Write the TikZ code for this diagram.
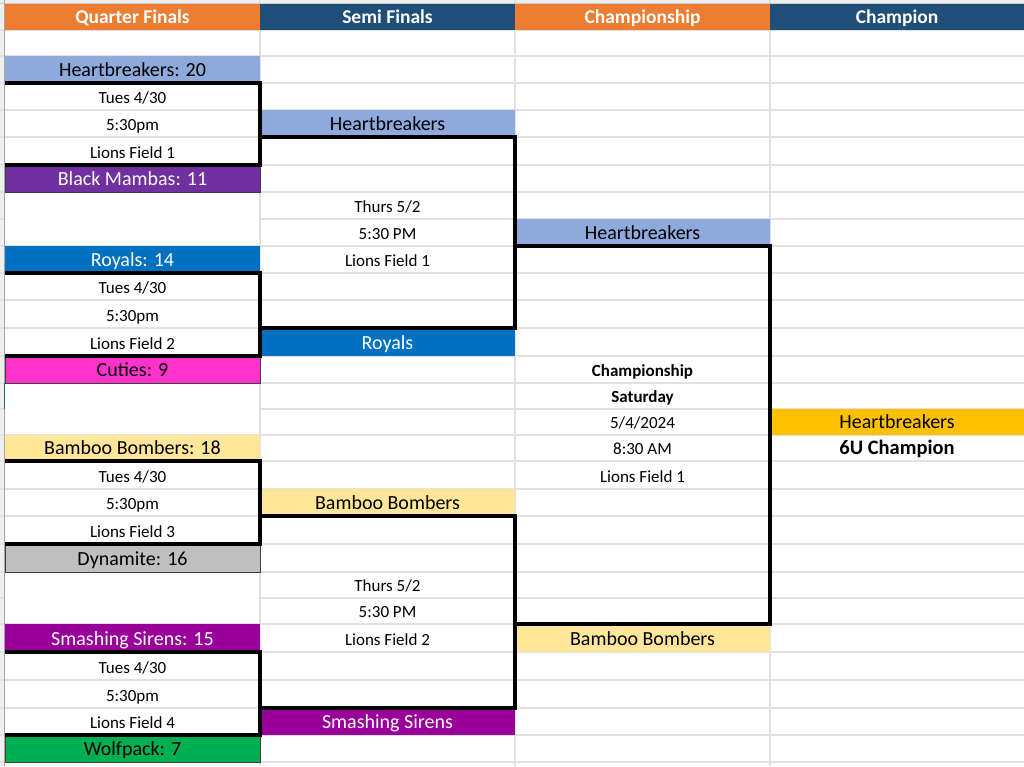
\documentclass[tikz,border=0pt]{standalone}
\usepackage{fontspec}
\setmainfont{Carlito}
\definecolor{hdrorange}{HTML}{ED7D31}
\definecolor{hdrblue}{HTML}{1F4E79}
\definecolor{hb}{HTML}{8EA9DB}
\definecolor{mamba}{HTML}{7030A0}
\definecolor{royal}{HTML}{0070C0}
\definecolor{cutie}{HTML}{FF33CC}
\definecolor{bamboo}{HTML}{FFE699}
\definecolor{dyna}{HTML}{BFBFBF}
\definecolor{siren}{HTML}{990099}
\definecolor{wolf}{HTML}{00B050}
\definecolor{gold}{HTML}{FFC000}
\definecolor{gridc}{HTML}{E1E1E1}
\definecolor{stripc}{HTML}{EFEFEF}
\definecolor{xlgreen}{HTML}{217346}
% name, x0, width, ytop, ybot, style, text
\newcommand\mkcell[7]{%
  \pgfmathsetmacro\cellth{#5-#4-6.5}%
  \node[cellbase,#6,minimum width=#3pt,text height=\cellth pt,text depth=6.5pt,anchor=north west] (#1) at (#2,#4) {#7};}
\begin{document}
\begin{tikzpicture}[x=1pt,y=-1pt,
  cellbase/.style={inner sep=0pt,outer sep=0pt,align=center},
  team/.style={font=\fontsize{20}{24}\selectfont},
  info/.style={font=\fontsize{17}{20}\selectfont},
  infob/.style={font=\bfseries\fontsize{17}{20}\selectfont},
  hdr/.style={font=\bfseries\fontsize{19.5}{23}\selectfont,text=white},
  loser/.style={draw=black!75,line width=0.8pt},
  bracket/.style={draw=black,line width=3.2pt,line join=miter},
  gridline/.style={draw=gridc,line width=1.2pt}]
\useasboundingbox (0,0) rectangle (1024,766);
\fill[white] (0,0) rectangle (1024,766);
% sheet frame
\fill[stripc] (0,0) rectangle (1024,4);
\fill[stripc] (0,0) rectangle (4,766);
\foreach \y in {30,56,83,110,137,165,192,246,273,300,328,356,383,435,461,489,516,544,572,624,652,680,708,735,762}
  \draw[gridline] (0,\y) -- (1024,\y);
\foreach \y in {219,409,598}{
  \draw[gridline] (260,\y) -- (1024,\y);
  \draw[gridline] (0,\y) -- (5,\y);}
\foreach \x in {260,515,770}
  \draw[gridline] (\x,0) -- (\x,766);
\draw[black!35,line width=1pt] (4.5,0) -- (4.5,766);
\draw[black!20,line width=1pt] (0,3.5) -- (1024,3.5);
\draw[xlgreen,line width=1.5pt] (4.5,383) -- (4.5,409);
% headers
\mkcell{hA}{5}{255}{4}{30}{hdr,fill=hdrorange}{Quarter Finals}
\mkcell{hB}{260}{255}{4}{30}{hdr,fill=hdrblue}{Semi Finals}
\mkcell{hC}{515}{255}{4}{30}{hdr,fill=hdrorange}{Championship}
\mkcell{hD}{770}{254}{4}{30}{hdr,fill=hdrblue}{Champion}
% quarter finals
\mkcell{qa1}{5}{255}{56}{83}{team,fill=hb}{Heartbreakers: 20}
\mkcell{qd1a}{5}{255}{83}{110}{info}{Tues 4/30}
\mkcell{qd1b}{5}{255}{110}{137}{info}{5:30pm}
\mkcell{qd1c}{5}{255}{137}{165}{info}{Lions Field 1}
\mkcell{qa2}{5}{255}{165}{192}{team,fill=mamba,text=white,loser}{Black Mambas: 11}
\mkcell{qa3}{5}{255}{246}{273}{team,fill=royal,text=white}{Royals: 14}
\mkcell{qd2a}{5}{255}{273}{300}{info}{Tues 4/30}
\mkcell{qd2b}{5}{255}{300}{328}{info}{5:30pm}
\mkcell{qd2c}{5}{255}{328}{356}{info}{Lions Field 2}
\mkcell{qa4}{5}{255}{356}{383}{team,fill=cutie,loser}{Cuties: 9}
\mkcell{qa5}{5}{255}{435}{461}{team,fill=bamboo}{Bamboo Bombers: 18}
\mkcell{qd3a}{5}{255}{461}{489}{info}{Tues 4/30}
\mkcell{qd3b}{5}{255}{489}{516}{info}{5:30pm}
\mkcell{qd3c}{5}{255}{516}{544}{info}{Lions Field 3}
\mkcell{qa6}{5}{255}{544}{572}{team,fill=dyna,loser}{Dynamite: 16}
\mkcell{qa7}{5}{255}{624}{652}{team,fill=siren,text=white}{Smashing Sirens: 15}
\mkcell{qd4a}{5}{255}{652}{680}{info}{Tues 4/30}
\mkcell{qd4b}{5}{255}{680}{708}{info}{5:30pm}
\mkcell{qd4c}{5}{255}{708}{735}{info}{Lions Field 4}
\mkcell{qa8}{5}{255}{735}{762}{team,fill=wolf,loser}{Wolfpack: 7}
% semi finals
\mkcell{sb1}{260}{255}{110}{137}{team,fill=hb}{Heartbreakers}
\mkcell{sd1a}{260}{255}{192}{219}{info}{Thurs 5/2}
\mkcell{sd1b}{260}{255}{219}{246}{info}{5:30 PM}
\mkcell{sd1c}{260}{255}{246}{273}{info}{Lions Field 1}
\mkcell{sb2}{260}{255}{328}{356}{team,fill=royal,text=white}{Royals}
\mkcell{sb3}{260}{255}{489}{516}{team,fill=bamboo}{Bamboo Bombers}
\mkcell{sd2a}{260}{255}{572}{598}{info}{Thurs 5/2}
\mkcell{sd2b}{260}{255}{598}{624}{info}{5:30 PM}
\mkcell{sd2c}{260}{255}{624}{652}{info}{Lions Field 2}
\mkcell{sb4}{260}{255}{708}{735}{team,fill=siren,text=white}{Smashing Sirens}
% championship
\mkcell{cb1}{515}{255}{219}{246}{team,fill=hb}{Heartbreakers}
\mkcell{cd1}{515}{255}{356}{383}{infob}{Championship}
\mkcell{cd2}{515}{255}{383}{409}{infob}{Saturday}
\mkcell{cd3}{515}{255}{409}{435}{info}{5/4/2024}
\mkcell{cd4}{515}{255}{435}{461}{info}{8:30 AM}
\mkcell{cd5}{515}{255}{461}{489}{info}{Lions Field 1}
\mkcell{cb2}{515}{255}{624}{652}{team,fill=bamboo}{Bamboo Bombers}
% champion
\mkcell{ch}{770}{254}{409}{435}{team,fill=gold}{Heartbreakers}
\mkcell{chl}{770}{254}{435}{461}{team,font=\bfseries\fontsize{20.5}{24}\selectfont}{6U Champion}
% brackets
\draw[bracket] (qa1.south west) -- (qa1.south east) -- (qa2.north east) -- (qa2.north west);
\draw[bracket] (qa3.south west) -- (qa3.south east) -- (qa4.north east) -- (qa4.north west);
\draw[bracket] (qa5.south west) -- (qa5.south east) -- (qa6.north east) -- (qa6.north west);
\draw[bracket] (qa7.south west) -- (qa7.south east) -- (qa8.north east) -- (qa8.north west);
\draw[bracket] (sb1.south west) -- (sb1.south east) -- (sb2.north east) -- (sb2.north west);
\draw[bracket] (sb3.south west) -- (sb3.south east) -- (sb4.north east) -- (sb4.north west);
\draw[bracket] (cb1.south west) -- (cb1.south east) -- (cb2.north east) -- (cb2.north west);
\end{tikzpicture}
\end{document}
